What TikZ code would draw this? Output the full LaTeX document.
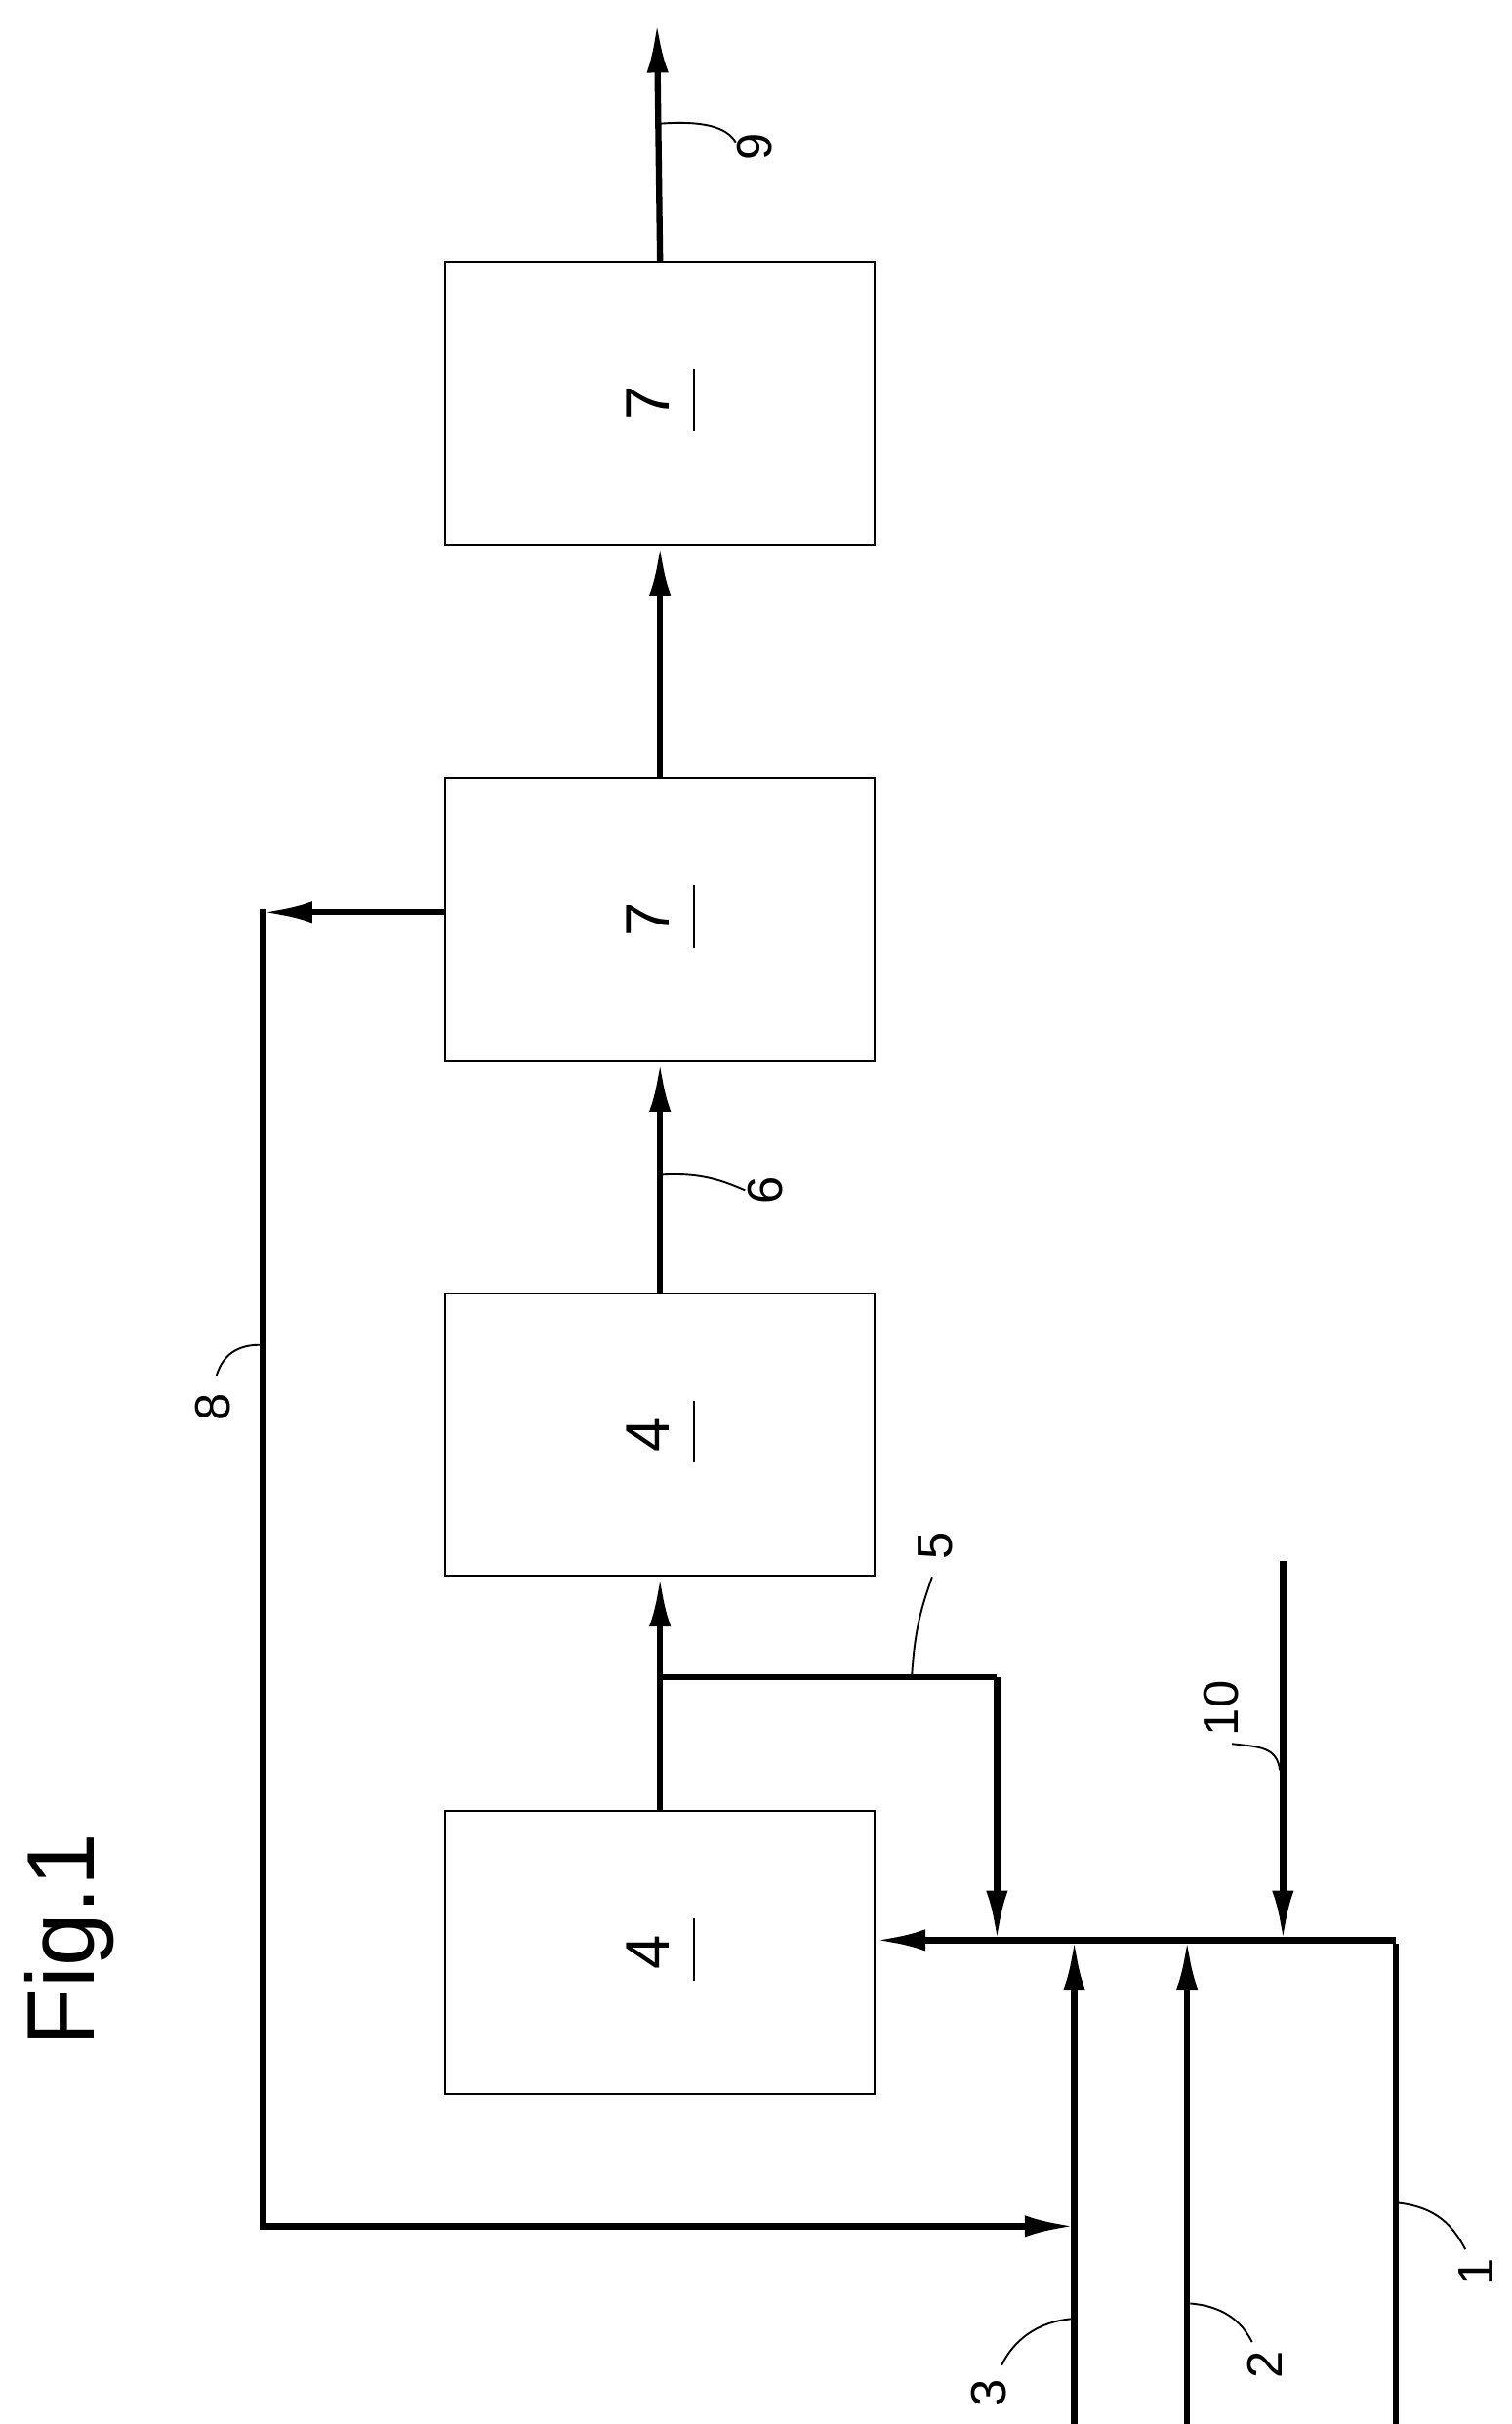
\documentclass[tikz,border=0pt]{standalone}
\usepackage{fontspec}
\setmainfont{Liberation Sans}
\usetikzlibrary{arrows.meta}
\begin{document}
\begin{tikzpicture}[x=1pt,y=-1pt,
  box/.style={draw,line width=1.3pt,minimum width=278pt,minimum height=183pt,inner sep=0},
  flow/.style={line width=4pt},
  arr/.style={flow,-{Latex[length=32pt,width=14pt]}},
  lead/.style={line width=1.2pt},
  lab/.style={font=\fontsize{32}{32}\selectfont,rotate=90,inner sep=1pt}]
\useasboundingbox (0,0) rectangle (978,1568);
\node[rotate=90,font=\fontsize{62}{62}\selectfont] (fig) at (45,1255) {Fig.1};
\node[box] (b7a) at (427,261) {};
\node[box] (b7b) at (427,595) {};
\node[box] (b4a) at (427,928) {};
\node[box] (b4b) at (427,1263) {};
\foreach \n/\t in {b7a/7,b7b/7,b4a/4,b4b/4}{
  \node[lab,font=\fontsize{40}{40}\selectfont] (t\n) at ([xshift=-8pt]\n.center) {\t};
  \draw[line width=1.5pt] ([xshift=22pt,yshift=-18pt]\n.center) -- ([xshift=22pt,yshift=22pt]\n.center);}
\coordinate (top) at (425,15);
\draw[arr] (b7a.north) -- (top);
\draw[arr] (b7b.north) -- (b7a.south);
\draw[arr] (b4a.north) -- (b7b.south);
\draw[arr] (b4b.north) -- (b4a.south);
% recycle 5
\coordinate (j5) at (425,1085);
\coordinate (c5) at (645,1085);
\coordinate (m) at (645,1255);
\draw[flow] (j5) -- (c5);
\draw[arr] (c5) -- (m);
% header line
\coordinate (hr) at (903,1255);
\draw[arr] (hr) -- (b4b.east |- hr);
% feeds
\coordinate (f1) at (903,1568);
\coordinate (f2) at (768,1568);
\coordinate (f3) at (695,1568);
\coordinate (h2) at (768,1255);
\coordinate (h3) at (695,1255);
\draw[flow] (f1) -- ([yshift=-2pt]hr);
\draw[arr] (f2) -- (h2);
\draw[arr] (f3) -- (h3);
\coordinate (f10) at (830,1010);
\coordinate (h10) at (830,1255);
\draw[arr] (f10) -- (h10);
% line 8
\coordinate (s8) at (288,590);
\coordinate (c8a) at (170,590);
\coordinate (c8b) at (170,1440);
\coordinate (e8) at (695,1440);
\draw[arr] (s8) -- (c8a);
\draw[flow] ([yshift=2pt]c8a) -- (c8b) -- ++(3,0);
\draw[arr] (c8b) -- (e8);
% labels
\node[lab] (l9) at (488,95) {9};
\draw[lead] (427,80) .. controls (455,78) and (470,82) .. (476,92);
\node[lab] (l6) at (495,770) {6};
\draw[lead] (427,760) .. controls (455,758) and (470,765) .. (482,770);
\node[lab] (l5) at (605,1000) {5};
\draw[lead] (590,1083) .. controls (592,1050) and (598,1035) .. (603,1020);
\node[lab] (l10) at (790,1105) {10};
\draw[lead] (828,1145) .. controls (826,1130) and (815,1130) .. (797,1128);
\node[lab] (l8) at (138,910) {8};
\draw[lead] (168,870) .. controls (150,870) and (143,880) .. (140,890);
\node[lab] (l1) at (955,1470) {1};
\draw[lead] (905,1425) .. controls (930,1428) and (940,1440) .. (948,1455);
\node[lab] (l2) at (818,1530) {2};
\draw[lead] (770,1490) .. controls (795,1492) and (805,1505) .. (810,1515);
\node[lab] (l3) at (640,1548) {3};
\draw[lead] (693,1500) .. controls (670,1502) and (655,1515) .. (648,1530);
\end{tikzpicture}
\end{document}
